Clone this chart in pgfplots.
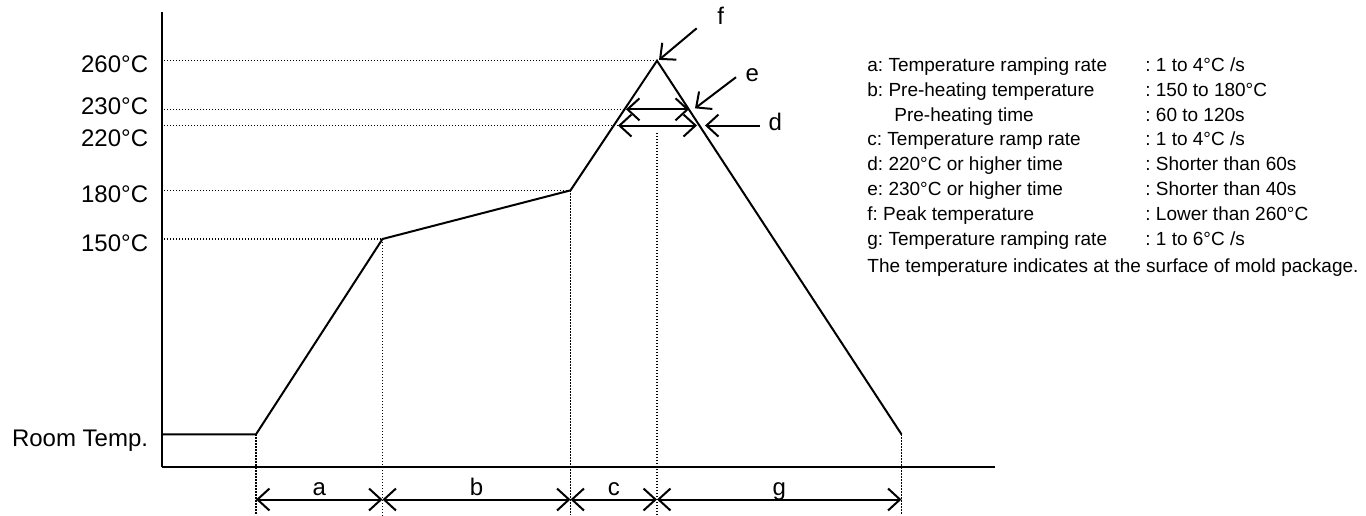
\documentclass[border=0pt]{standalone}
\usepackage{fontspec}
\setmainfont{Liberation Sans}
\usepackage{pgfplots}
\pgfplotsset{compat=1.18}
\usetikzlibrary{arrows.meta}
\frenchspacing
\begin{document}
\begin{tikzpicture}[
  tip/.style={-{Straight Barb[length=6pt,width=11pt]}},
  dtip/.style={{Straight Barb[length=6pt,width=11pt]}-{Straight Barb[length=6pt,width=11pt]}},
  dots/.style={line width=0.7pt, dash pattern=on 0.7pt off 0.8pt},
  lbl/.style={anchor=base, inner sep=0pt, font=\fontsize{12pt}{14pt}\selectfont},
  leg/.style={anchor=base west, inner sep=0pt, font=\fontsize{9.5pt}{12pt}\selectfont},
]
\useasboundingbox (-81pt,-24pt) rectangle (602pt,233.5pt);
\begin{axis}[
  at={(0,0)}, anchor=south west,
  scale only axis, width=416.5pt, height=227.5pt,
  xmin=162, xmax=995, ymin=9.35, ymax=290.04,
  axis x line=bottom, axis y line=left,
  axis line style={-, line width=1.15pt, black},
  clip=false,
  xtick=\empty,
  ytick={29.5,150,180,220,230,260},
  yticklabels={Room Temp.,150°C,180°C,\raisebox{-4.25pt}{220°C},\raisebox{3.6pt}{230°C},260°C},
  yticklabel style={anchor=base east, inner sep=0pt, xshift=-6.75pt, yshift=-6.15pt, font=\fontsize{12pt}{14pt}\selectfont},
  major tick length=0pt,
  every axis plot/.append style={black, no markers},
]
% reflow temperature profile
\addplot[line width=1pt] coordinates {(162,29.5) (256,29.5) (382.5,150) (570.5,180) (657,260) (901.5,29.5)};
% horizontal guide lines
\addplot[dots] coordinates {(164,260) (657,260)};
\addplot[dots] coordinates {(164,230) (626,230)};
\addplot[dots] coordinates {(164,220) (618,220)};
\addplot[dots] coordinates {(164,180) (570.5,180)};
\addplot[dots] coordinates {(164,150) (382.5,150)};
% vertical guide lines
\addplot[dots] coordinates {(256,29.5) (256,-20.3)};
\addplot[dots] coordinates {(382.5,150) (382.5,-20.3)};
\addplot[dots] coordinates {(570.5,180) (570.5,-20.3)};
\addplot[dots] coordinates {(657,215.4) (657,-20.3)};
\addplot[dots] coordinates {(901.5,29.5) (901.5,-20.3)};
% time interval arrows
\addplot[dtip, line width=1pt] coordinates {(256,-10.7) (382.5,-10.7)};
\addplot[dtip, line width=1pt] coordinates {(382.5,-10.7) (570.5,-10.7)};
\addplot[dtip, line width=1pt] coordinates {(570.5,-10.7) (657,-10.7)};
\addplot[dtip, line width=1pt] coordinates {(657,-10.7) (901.5,-10.7)};
\node[lbl] at (axis cs:319.25,-8.5) {a};
\node[lbl] at (axis cs:476.5,-8.5) {b};
\node[lbl] at (axis cs:613.75,-8.5) {c};
\node[lbl] at (axis cs:779.25,-8.5) {g};
% peak zone arrows
\addplot[dtip, line width=1pt] coordinates {(626,230) (689,230)};
\addplot[dtip, line width=1pt] coordinates {(618,220) (697,220)};
\addplot[tip, line width=1pt] coordinates {(696.7,280) (659,260.5)};
\addplot[tip, line width=1pt] coordinates {(736,249.8) (695,230.6)};
\addplot[tip, line width=1pt] coordinates {(760,220) (705,220)};
\node[lbl] at (axis cs:720.7,282.6) {f};
\node[lbl] at (axis cs:752.3,247.0) {e};
\node[lbl] at (axis cs:775.3,217.2) {d};
% conditions
\node[leg] at (axis cs:867,253.2) {\makebox[139pt][l]{a: Temperature ramping rate}: 1 to 4°C /s};
\node[leg] at (axis cs:867,237.9) {\makebox[139pt][l]{b: Pre-heating temperature}: 150 to 180°C};
\node[leg] at (axis cs:867,222.7) {\makebox[139pt][l]{\hspace{13.5pt}Pre-heating time}: 60 to 120s};
\node[leg] at (axis cs:867,207.4) {\makebox[139pt][l]{c: Temperature ramp rate}: 1 to 4°C /s};
\node[leg] at (axis cs:867,192.1) {\makebox[139pt][l]{d: 220°C or higher time}: Shorter than 60s};
\node[leg] at (axis cs:867,176.9) {\makebox[139pt][l]{e: 230°C or higher time}: Shorter than 40s};
\node[leg] at (axis cs:867,161.6) {\makebox[139pt][l]{f: Peak temperature}: Lower than 260°C};
\node[leg] at (axis cs:867,146.3) {\makebox[139pt][l]{g: Temperature ramping rate}: 1 to 6°C /s};
\node[leg] at (axis cs:867,129.3) {The temperature indicates at the surface of mold package.};
\end{axis}
\end{tikzpicture}
\end{document}
